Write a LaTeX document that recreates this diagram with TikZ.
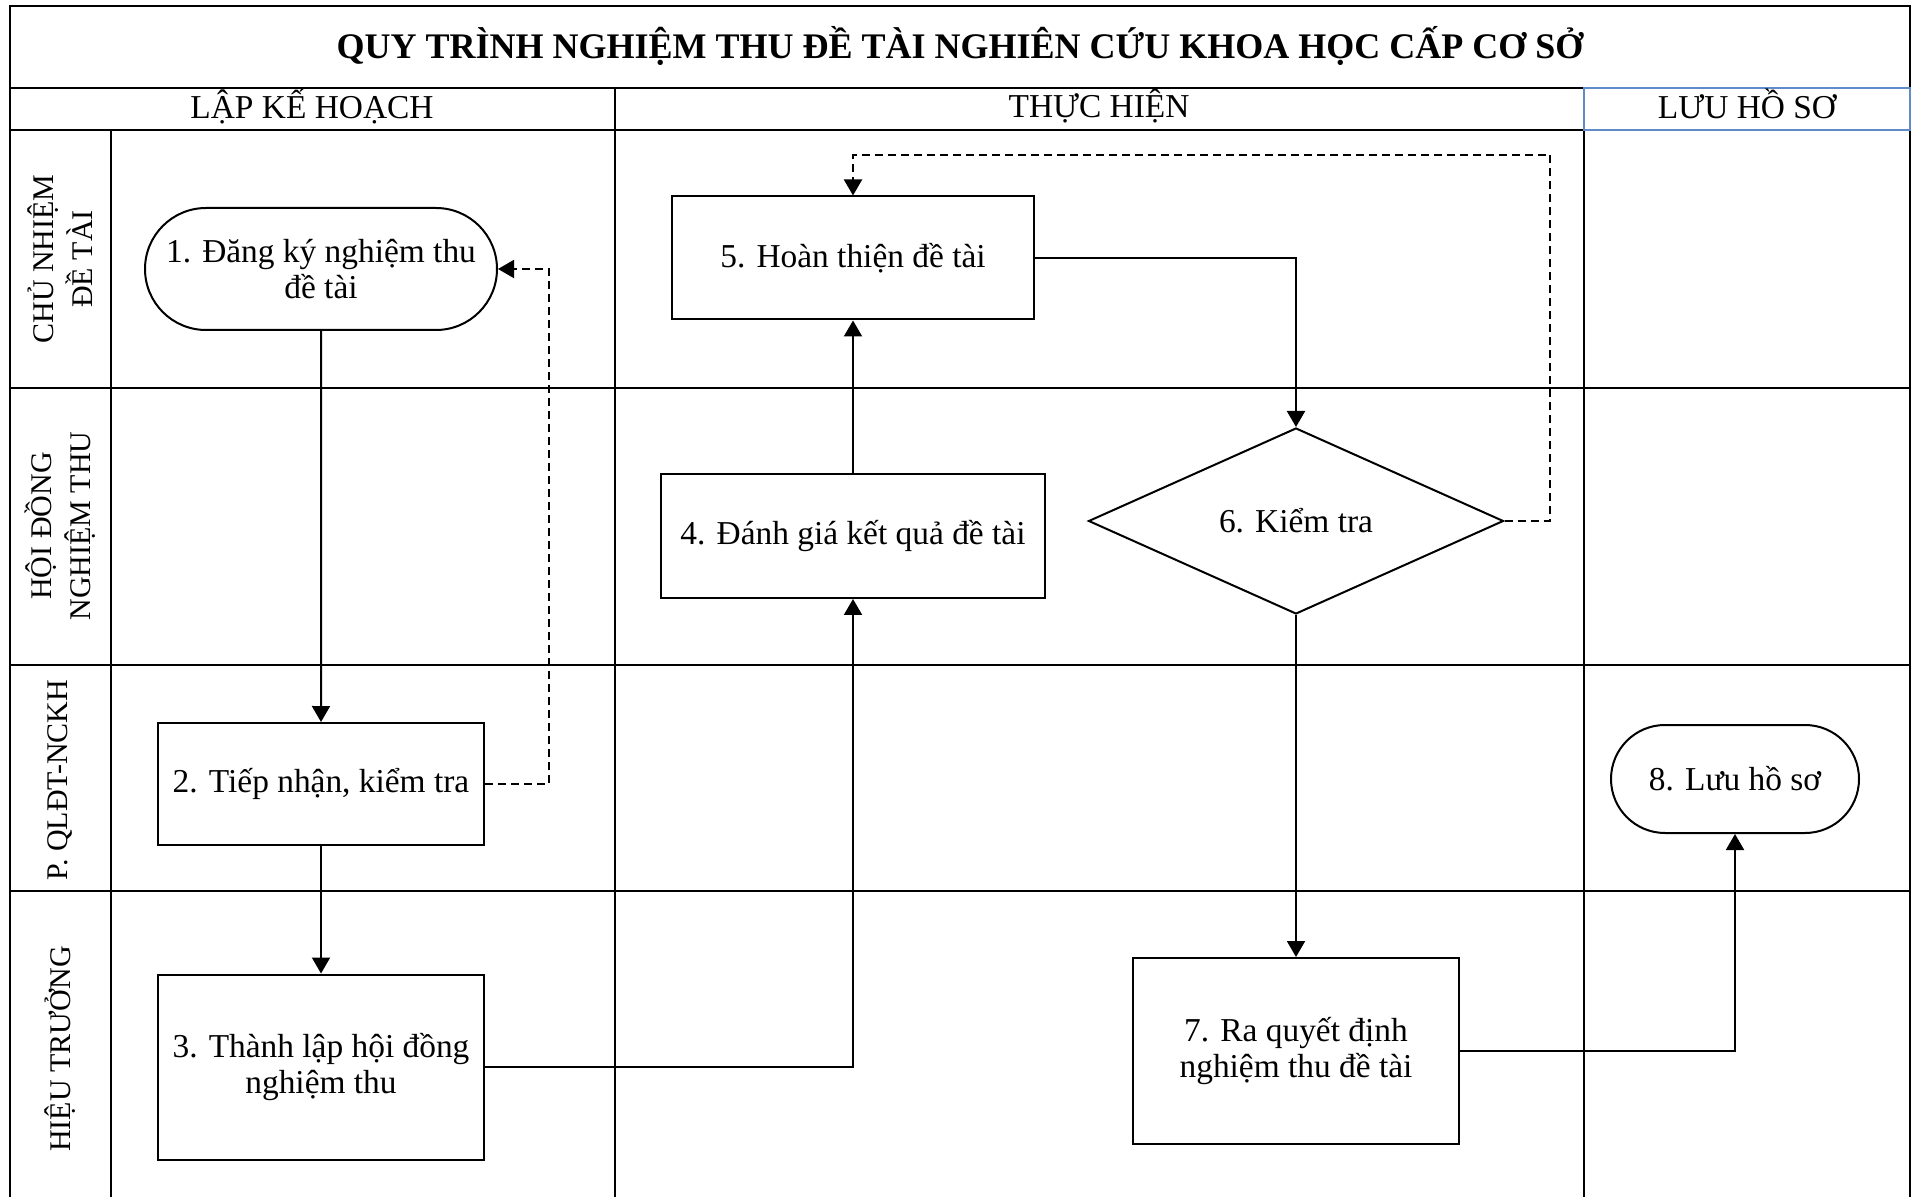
\documentclass[tikz,border=0pt]{standalone}
\usepackage{fontspec}
\setmainfont{Liberation Serif}
\usetikzlibrary{positioning,shapes.geometric,shapes.misc,arrows.meta}
\definecolor{headblue}{RGB}{96,138,200}

\begin{document}
\begin{tikzpicture}[
    x=0.5pt, y=-0.5pt,
    line width=1pt,
    >={Triangle[length=8pt,width=9pt]},
    every node/.style={font=\fontsize{16.7}{17.8}\selectfont},
    termnode/.style={rounded rectangle, draw=black, align=center, inner sep=2pt},
    procnode/.style={rectangle, draw=black, align=center, inner sep=2pt},
    decnode/.style={diamond, draw=black, align=center, inner sep=0pt},
    lanetext/.style={rotate=90, align=center, font=\fontsize{15}{19.5}\selectfont},
    fback/.style={->, dash pattern=on 4pt off 2.5pt},
  ]
  \useasboundingbox (0,0) rectangle (1917,1197);

  % swimlane frame
  \draw (10,1197) -- (10,6) -- (1910,6) -- (1910,1197);
  \draw (10,88) -- (1910,88);
  \draw (10,130) -- (1910,130);
  \foreach \y in {388,665,891}
    \draw (10,\y) -- (1910,\y);
  \draw (111,130) -- (111,1197);
  \foreach \x in {615,1584}
    \draw (\x,88) -- (\x,1197);
  \draw[headblue] (1584,88) rectangle (1910,130);

  \node[font=\bfseries\fontsize{18}{21}\selectfont] (title) at (960,46)
    {QUY TRÌNH NGHIỆM THU ĐỀ TÀI NGHIÊN CỨU KHOA HỌC CẤP CƠ SỞ};
  \node (plan) at (312,106) {LẬP KẾ HOẠCH};
  \node (exec) at (1099,106) {THỰC HIỆN};
  \node (arch) at (1747,104) {LƯU HỒ SƠ};

  \node[lanetext] (lead) at (60,259) {CHỦ NHIỆM\\ĐỀ TÀI};
  \node[lanetext] (board) at (60,526) {HỘI ĐỒNG\\NGHIỆM THU};
  \node[lanetext] (office) at (60,780) {P. QLĐT-NCKH};
  \node[lanetext] (rector) at (60,1049) {HIỆU TRƯỞNG};

  % steps
  \node[termnode, minimum width=180pt, minimum height=61pt] (reg) at (321,269)
    {1. Đăng ký nghiệm thu\\đề tài};
  \node[procnode, minimum width=163pt, minimum height=61pt] (recv) at (321,784)
    {2. Tiếp nhận, kiểm tra};
  \node[procnode, minimum width=163pt, minimum height=92.5pt] (council) at (321,1067)
    {3. Thành lập hội đồng\\nghiệm thu};
  \node[procnode, minimum width=192pt, minimum height=62pt] (assess) at (853,536)
    {4. Đánh giá kết quả đề tài};
  \node[procnode, minimum width=181pt, minimum height=61.5pt] (finish) at (853,258)
    {5. Hoàn thiện đề tài};
  \node[decnode, minimum width=207.5pt, minimum height=93pt] (check) at (1296,521)
    {6. Kiểm tra};
  \node[procnode, minimum width=163pt, minimum height=93pt] (decide) at (1296,1051)
    {7. Ra quyết định\\nghiệm thu đề tài};
  \node[termnode, minimum width=128pt, minimum height=54pt] (store) at (1735,779)
    {8. Lưu hồ sơ};

  \coordinate (loop) at (1550,155);

  \draw[->] (reg) -- (recv);
  \draw[fback] (recv.east) -- ++(64,0) |- (reg.east);
  \draw[->] (recv) -- (council);
  \draw[->] (council.east) -| (assess.south);
  \draw[->] (assess) -- (finish);
  \draw[->] (finish.east) -| (check.north);
  \draw[fback] (check.east) -| (loop) -| (finish.north);
  \draw[->] (check) -- (decide);
  \draw[->] (decide.east) -| (store.south);
\end{tikzpicture}
\end{document}
